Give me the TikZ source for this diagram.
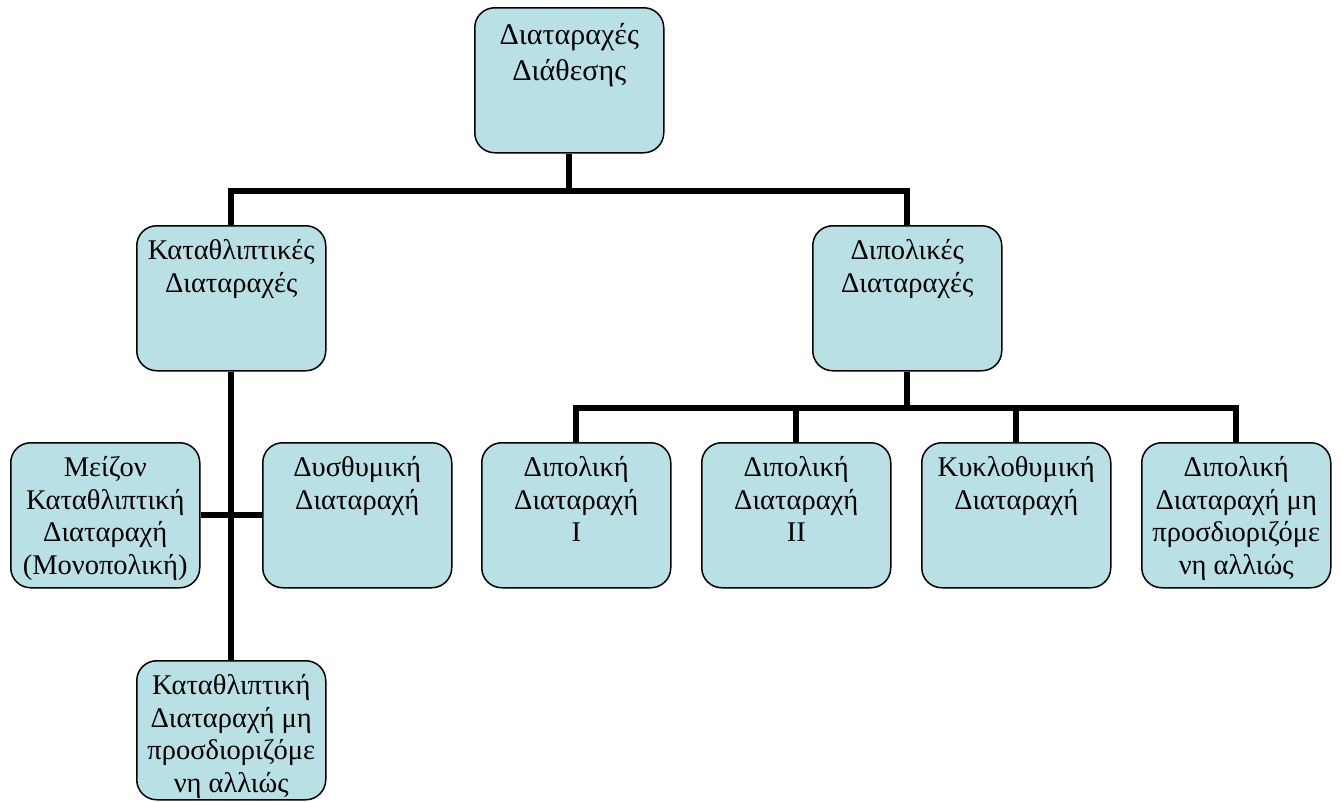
\documentclass[tikz,border=0pt]{standalone}
\usepackage{fontspec}
\usetikzlibrary{calc}
\setmainfont{Liberation Serif}
\definecolor{boxblue}{RGB}{185,224,228}
\newcommand{\boxtext}[2][123pt]{\parbox[c][#1][t]{186pt}{\centering\strut #2}}
\tikzset{
  orgbox/.style={rectangle, rounded corners=20pt, draw=black, line width=1.5pt,
    fill=boxblue, anchor=north west, inner xsep=1.5pt, inner ysep=11pt,
    font=\fontsize{28.5}{32.5}\selectfont},
  topbox/.style={orgbox, inner ysep=12pt, font=\fontsize{30}{36}\selectfont},
  conn/.style={line width=6pt, draw=black, line join=miter}
}
\begin{document}
\begin{tikzpicture}[x=1pt,y=-1pt]
\useasboundingbox (0,0) rectangle (1341,801);
\node[topbox] (top) at (474,7) {\boxtext[121pt]{Διαταραχές\\Διάθεσης}};
\node[orgbox] (kat) at (136,225) {\boxtext{Καταθλιπτικές\\Διαταραχές}};
\node[orgbox] (dip) at (812,225) {\boxtext{Διπολικές\\Διαταραχές}};
\node[orgbox] (mei) at (10,442) {\boxtext{Μείζον\\Καταθλιπτική\\Διαταραχή\\(Μονοπολική)}};
\node[orgbox] (dys) at (262,442) {\boxtext{Δυσθυμική\\Διαταραχή}};
\node[orgbox] (bp1) at (481,442) {\boxtext{Διπολική\\Διαταραχή\\Ι}};
\node[orgbox] (bp2) at (701,442) {\boxtext{Διπολική\\Διαταραχή\\ΙΙ}};
\node[orgbox] (cyc) at (921,442) {\boxtext{Κυκλοθυμική\\Διαταραχή}};
\node[orgbox] (bpn) at (1141,442) {\boxtext{Διπολική\\Διαταραχή μη\\προσδιοριζόμε\\νη αλλιώς}};
\node[orgbox] (kbn) at (136,660) {\boxtext[117pt]{Καταθλιπτική\\Διαταραχή μη\\προσδιοριζόμε\\νη αλλιώς}};
\coordinate (h1) at ($(top.south)+(0,37)$);
\coordinate (h2) at ($(dip.south)+(0,36)$);
\draw[conn] (top.south) -- (h1);
\draw[conn] (kat.north) |- (h1) -| (dip.north);
\draw[conn] (kat.south) -- (kbn.north);
\draw[conn] (mei.east) -- (dys.west);
\draw[conn] (dip.south) -- (h2);
\draw[conn] (bp1.north) |- (h2) -| (bpn.north);
\draw[conn] (bp2.north) -- (bp2.north |- h2);
\draw[conn] (cyc.north) -- (cyc.north |- h2);
\end{tikzpicture}
\end{document}
